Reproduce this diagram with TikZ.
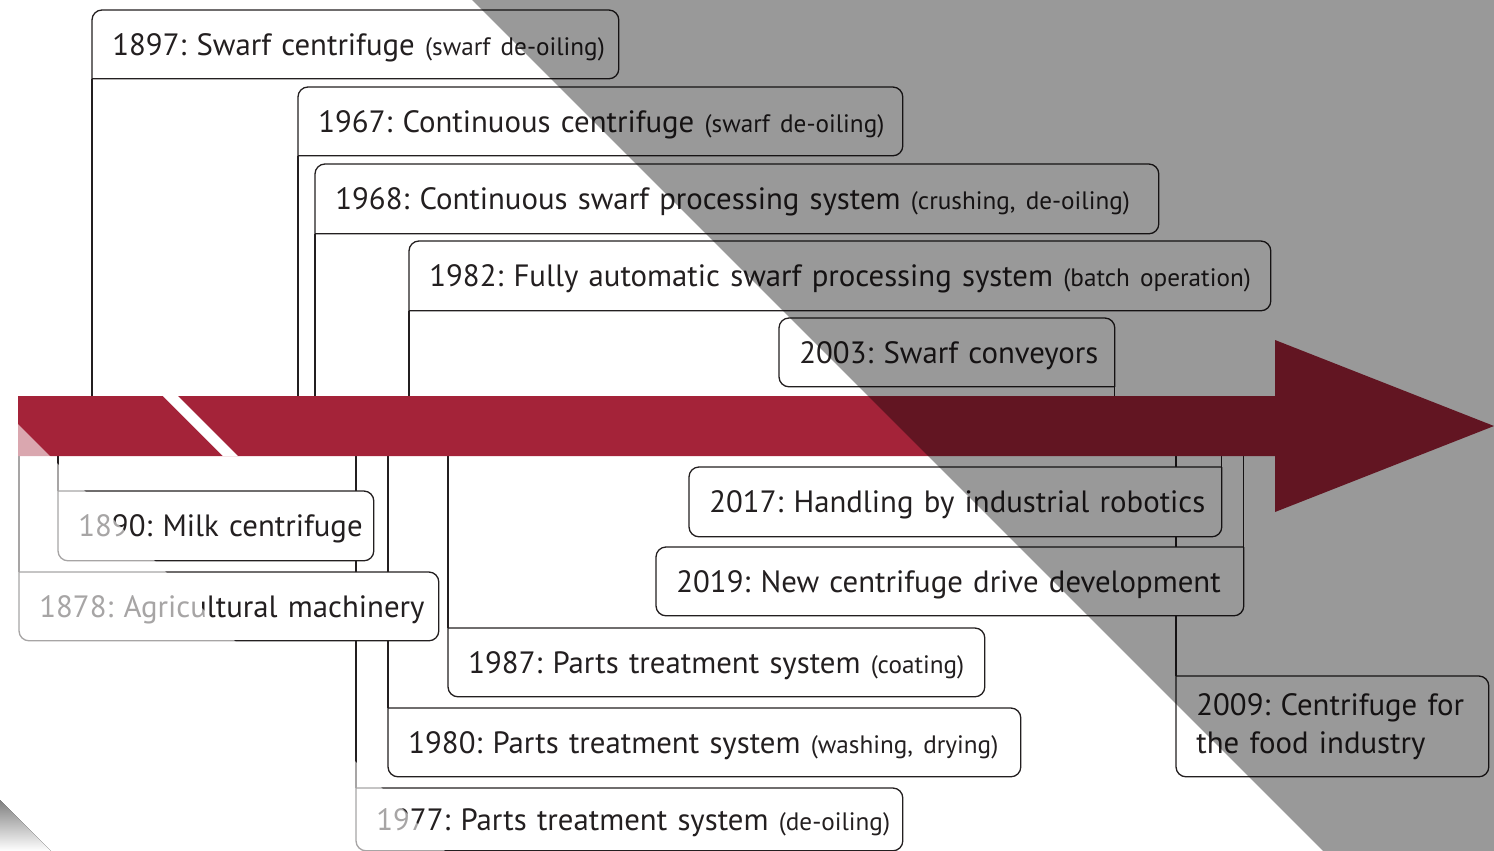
\documentclass[tikz,border=0pt]{standalone}
\usepackage{fontspec}
\setmainfont{PT Sans}
\usetikzlibrary{backgrounds}

\definecolor{bandred}{RGB}{164,35,57}
\definecolor{ink}{RGB}{35,31,32}
\definecolor{shade}{RGB}{153,153,153}

\newcommand{\yearfont}{\fontsize{15.4}{19}\selectfont\frenchspacing}
\newcommand{\notefont}{\fontsize{12.6}{15}\selectfont}

\tikzset{
  yearbox/.style={anchor=north west, inner xsep=10pt, inner ysep=0pt,
    align=left, text=ink, font=\yearfont},
  oneline/.style={text depth=0pt,
    execute at begin node=\hbox\bgroup, execute at end node=\egroup},
  outline/.style={draw=ink, fill=white, line width=0.65pt, rounded corners=5pt},
  stem/.style={draw=ink, line width=0.65pt},
}

\begin{document}
\begin{tikzpicture}[x=0.5pt, y=-0.5pt]
\useasboundingbox (0,0) rectangle (1494,851);

% timeline band
\coordinate (bandtop) at (0,396);
\coordinate (bandbot) at (0,456);
\fill[bandred] (18,396) -- (1275,396) -- (1275,340) -- (1494,426)
  -- (1275,512) -- (1275,456) -- (18,456) -- cycle;
\fill[white] (163,396) -- (178,396) -- (238,456) -- (223,456) -- cycle;

% above the band
\node[yearbox, oneline, text width=243pt, minimum height=34pt] (y1897) at (92,10)
  {1897: Swarf centrifuge {\notefont(swarf de-oiling)}};
\node[yearbox, oneline, text width=282pt, minimum height=34pt] (y1967) at (298,87)
  {1967: Continuous centrifuge {\notefont(swarf de-oiling)}};
\node[yearbox, oneline, text width=401.5pt, minimum height=34.5pt] (y1968) at (315,164)
  {1968: Continuous swarf processing system {\notefont(crushing, de-oiling)}};
\node[yearbox, oneline, text width=410.5pt, minimum height=34.5pt] (y1982) at (409,241)
  {1982: Fully automatic swarf processing system {\notefont(batch operation)}};
\node[yearbox, oneline, text width=147.5pt, minimum height=34pt] (y2003) at (779,318)
  {2003: Swarf conveyors};

% below the band
\node[yearbox, oneline, text width=137.5pt, minimum height=34.5pt] (y1890) at (58,491)
  {1890: Milk centrifuge};
\node[yearbox, oneline, text width=189.5pt, minimum height=34pt] (y1878) at (19,572)
  {1878: Agricultural machinery};
\node[yearbox, oneline, text width=253pt, minimum height=31pt] (y1977) at (356,788)
  {1977: Parts treatment system {\notefont(de-oiling)}};
\node[yearbox, oneline, text width=296pt, minimum height=34pt] (y1980) at (388,708)
  {1980: Parts treatment system {\notefont(washing, drying)}};
\node[yearbox, oneline, text width=248pt, minimum height=34pt] (y1987) at (448,628)
  {1987: Parts treatment system {\notefont(coating)}};
\node[yearbox, oneline, text width=246pt, minimum height=34.5pt] (y2017) at (689,467)
  {2017: Handling by industrial robotics};
\node[yearbox, oneline, text width=273.5pt, minimum height=34pt] (y2019) at (656,547)
  {2019: New centrifuge drive development};
\node[yearbox, text width=136pt, minimum height=50pt] (y2009) at (1176,676)
  {2009: Centrifuge for\\the food industry};

\begin{scope}[on background layer]
  % stems to the band
  \foreach \n in {y1897,y1967,y1968,y1982}
    \draw[stem] (\n.south west) -- (\n.south west |- bandtop);
  \draw[stem] (y2003.south east) -- (y2003.south east |- bandtop);
  \foreach \n in {y1890,y1878,y1977,y1980,y1987,y2009}
    \draw[stem] (\n.north west |- bandbot) -- (\n.north west);
  \foreach \n in {y2017,y2019}
    \draw[stem] (\n.north east |- bandbot) -- (\n.north east);
  % boxes
  \foreach \n in {y1897,y1967,y1968,y1982}
    \path[outline] (\n.south west) -- (\n.north west) -- (\n.north east)
      -- (\n.south east) -- (\n.south west);
  \path[outline] (y2003.south east) -- (y2003.south west) -- (y2003.north west)
    -- (y2003.north east) -- (y2003.south east);
  \foreach \n in {y1890,y1878,y1977,y1980,y1987,y2009}
    \path[outline] (\n.north west) -- (\n.north east) -- (\n.south east)
      -- (\n.south west) -- (\n.north west);
  \foreach \n in {y2017,y2019}
    \path[outline] (\n.north east) -- (\n.south east) -- (\n.south west)
      -- (\n.north west) -- (\n.north east);
\end{scope}

% fade and shade
\fill[white, opacity=0.6] (0,406) -- (445,851) -- (0,851) -- cycle;
\fill[shade] (0,800) -- (51,851) -- (0,851) -- cycle;
\fill[black, opacity=0.4] (472,0) -- (1494,0) -- (1494,851) -- (1323,851) -- cycle;
\end{tikzpicture}
\end{document}
